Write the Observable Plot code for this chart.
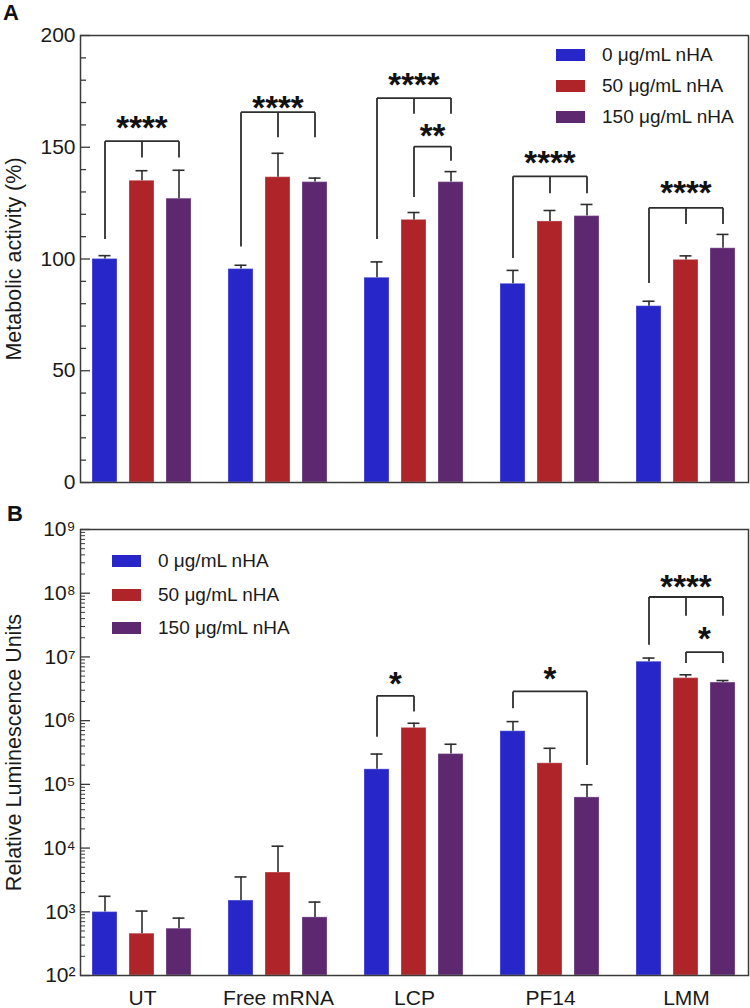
<!DOCTYPE html>
<html><head><meta charset="utf-8">
<script src="https://cdn.jsdelivr.net/npm/d3@7"></script>
<script src="https://cdn.jsdelivr.net/npm/@observablehq/plot@0.6"></script>
<style>
body{margin:0;background:#fff;font-family:"Liberation Sans",Arial,sans-serif;}
#wrap{position:relative;width:750px;height:1008px;overflow:hidden;}
.panel{position:absolute;left:0;}
.plabel{position:absolute;font-weight:bold;font-size:22px;color:#111;line-height:1;}
.legend{position:absolute;font-size:19px;color:#1a1a1a;}
.legend .row{position:absolute;left:0;white-space:nowrap;display:flex;align-items:center;height:20px;margin-top:-10px;}
.legend .sw{display:inline-block;width:29px;height:12px;margin-right:17px;}
</style></head><body><div id="wrap"></div>
<script>
// ---------- data ----------
const groups = ["UT", "Free mRNA", "LCP", "PF14", "LMM"];
const series = ["0 μg/mL nHA", "50 μg/mL nHA", "150 μg/mL nHA"];
const seriesColors = ["#2727c9", "#ae2429", "#5d2870"];

// Panel A: metabolic activity (%), mean and SD per group x series
const metabolicTitle = "Metabolic activity (%)";
const metabolicMean = [[100, 135, 127], [95.5, 136.6, 134.4], [91.6, 117.5, 134.4], [88.9, 116.8, 119.2], [78.9, 99.6, 104.8]];
const metabolicSD = [[1.5, 4.5, 12.7], [1.7, 10.7, 1.8], [7.1, 3.3, 4.7], [6.0, 4.9, 5.2], [2.2, 1.8, 6.2]];
const metabolicTicks = [0, 50, 100, 150, 200];
const metabolicMinorTicks = [10, 20, 30, 40, 60, 70, 80, 90, 110, 120, 130, 140, 160, 170, 180, 190];

// Panel B: relative luminescence units
const lumTitle = "Relative Luminescence Units";
const lumMean = [[990, 453, 543], [1500, 4130, 817], [172000, 769000, 299000], [682000, 214000, 62400], [8.4e6, 4.65e6, 3.96e6]];
const lumSD = [[760, 573, 253], [2020, 6570, 603], [127000, 141000, 127000], [284000, 154000, 36200], [1.2e6, 5.9e5, 3.0e5]];
const lumTicks = [1e2, 1e3, 1e4, 1e5, 1e6, 1e7, 1e8, 1e9];
const lumTickLabels = ["10²", "10³", "10⁴", "10⁵", "10⁶", "10⁷", "10⁸", "10⁹"];
const lumMinorTicks = d3.range(2, 9).flatMap(k => d3.range(2, 10).map(m => m * 10 ** k));

// Significance brackets: group index, leg series indices, leg bottoms, bracket top, label, label level
const metabolicBrackets = [
  {group: 0, legs: [0, 1, 2], bottoms: [109, 145.4, 145.4], top: 152.7, label: "****", at: 160.6},
  {group: 1, legs: [0, 1, 2], bottoms: [105.6, 154.5, 154.5], top: 165.7, label: "****", at: 169.7},
  {group: 2, legs: [0, 1, 2], bottoms: [109, 165, 165], top: 172, label: "****", at: 179.9},
  {group: 2, legs: [1, 2], bottoms: [127.7, 144], top: 150.3, label: "**", at: 157.2},
  {group: 3, legs: [0, 1, 2], bottoms: [100.5, 129.4, 129.4], top: 137, label: "****", at: 144.8},
  {group: 4, legs: [0, 1, 2], bottoms: [89.3, 115.7, 115.7], top: 122.9, label: "****", at: 131.4}
];
const lumBrackets = [
  {group: 2, legs: [0, 1], bottoms: [5.61e5, 1.39e6], top: 2.45e6, label: "*", at: 4.37e6},
  {group: 3, legs: [0, 2], bottoms: [1.57e6, 2.01e5], top: 2.87e6, label: "*", at: 5.24e6},
  {group: 4, legs: [0, 1, 2], bottoms: [1.55e7, 4.43e7, 4.43e7], top: 8.72e7, label: "****", at: 1.45e8},
  {group: 4, legs: [1, 2], bottoms: [8.0e6, 8.0e6], top: 1.19e7, label: "*", at: 2.23e7}
];

// ---------- helpers ----------
const FONT = "'Liberation Sans', Arial, sans-serif";
const INK = "#2e2e2e";

function table(means, sds) {
  return groups.flatMap((g, i) => series.map((s, j) => ({group: g, series: s, mean: means[i][j], sd: sds[i][j]})));
}
function segments(brackets) {
  const out = [];
  for (const b of brackets) {
    const g = groups[b.group];
    const a = series[b.legs[0]], z = series[b.legs[b.legs.length - 1]];
    out.push({group: g, s1: a, s2: z, y1: b.top, y2: b.top});
    b.legs.forEach((l, k) => out.push({group: g, s1: series[l], s2: series[l], y1: b.top, y2: b.bottoms[k]}));
  }
  return out;
}
function labels(brackets, span) {
  return brackets.filter(b => b.legs[b.legs.length - 1] - b.legs[0] === span).map(b => ({
    group: groups[b.group], s: series[span === 2 ? b.legs[0] + 1 : b.legs[0]], at: b.at, label: b.label
  }));
}
function panelMarks(data, brackets, base, title, yAxisMarks) {
  const star = {fx: "group", x: "s", y: "at", text: "label", fontSize: 33, fontWeight: "bold", fill: "#111", dy: 5};
  return [
    Plot.barY(data, {fx: "group", x: "series", y1: base, y2: "mean", fill: "series", stroke: "white", strokeOpacity: 0.25, strokeWidth: 1.2}),
    Plot.ruleX(data, {fx: "group", x: "series", y1: "mean", y2: d => d.mean + d.sd, stroke: INK, strokeWidth: 1.6}),
    Plot.tickY(data, {fx: "group", x: "series", y: d => d.mean + d.sd, stroke: INK, strokeWidth: 1.6, insetLeft: 6.5, insetRight: 6.5}),
    Plot.link(segments(brackets), {fx: "group", x1: "s1", x2: "s2", y1: "y1", y2: "y2", stroke: INK, strokeWidth: 1.8}),
    Plot.text(labels(brackets, 2), star),
    Plot.text(labels(brackets, 1), {...star, dx: 18.5}),
    ...yAxisMarks,
    Plot.text([title], {facet: "super", frameAnchor: "left", rotate: -90, dx: -66, textAnchor: "middle", lineAnchor: "middle", fontSize: 21.5, fill: "#1a1a1a"}),
    Plot.frame({facet: "super", stroke: "#3a3a3a", strokeWidth: 1.5})
  ];
}

const wrap = document.getElementById("wrap");

// ---------- Panel A ----------
const plotA = Plot.plot({
  width: 750, height: 497,
  marginTop: 35, marginBottom: 15, marginLeft: 79, marginRight: 2,
  style: {fontFamily: FONT, background: "transparent", color: "#1a1a1a"},
  fx: {domain: groups, paddingInner: 0.09, paddingOuter: 0, axis: null, label: null},
  x: {domain: series, paddingInner: 0.3243, paddingOuter: 0.3378, axis: null},
  y: {domain: [0, 200], axis: null},
  color: {domain: series, range: seriesColors},
  marks: panelMarks(table(metabolicMean, metabolicSD), metabolicBrackets, 0, metabolicTitle, [
    Plot.axisY(metabolicTicks, {tickSize: -10, tickPadding: 15, fontSize: 21, stroke: "#3a3a3a", strokeWidth: 1.3, label: null}),
    Plot.axisY(metabolicMinorTicks, {tickSize: -6, tickFormat: () => "", label: null, stroke: "#3a3a3a", strokeWidth: 1.3})
  ])
});
plotA.classList.add("panel");
plotA.style.top = "0px";
wrap.appendChild(plotA);

// ---------- Panel B ----------
const plotB = Plot.plot({
  width: 750, height: 511,
  marginTop: 32, marginBottom: 33, marginLeft: 79, marginRight: 2,
  style: {fontFamily: FONT, background: "transparent", color: "#1a1a1a"},
  fx: {domain: groups, paddingInner: 0.09, paddingOuter: 0, label: null},
  x: {domain: series, paddingInner: 0.3243, paddingOuter: 0.3378, axis: null},
  y: {type: "log", domain: [1e2, 1e9], axis: null},
  color: {domain: series, range: seriesColors},
  marks: [
    ...panelMarks(table(lumMean, lumSD), lumBrackets, lumTicks[0], lumTitle, [
      Plot.axisY(lumTicks, {tickSize: -10, tickPadding: 15, fontSize: 21, stroke: "#3a3a3a", strokeWidth: 1.3,
        tickFormat: d => lumTickLabels[lumTicks.indexOf(d)], label: null}),
      Plot.axisY(lumMinorTicks, {tickSize: -5, tickFormat: () => "", label: null, stroke: "#3a3a3a", strokeWidth: 1})
    ]),
    Plot.axisFx({anchor: "bottom", tickSize: 0, tickPadding: 15, fontSize: 21, label: null})
  ]
});
plotB.classList.add("panel");
plotB.style.top = "497px";
wrap.appendChild(plotB);

// ---------- panel letters & legends ----------
function addDiv(cls, text, left, top) {
  const d = document.createElement("div");
  d.className = cls; d.textContent = text;
  d.style.left = left + "px"; d.style.top = top + "px";
  wrap.appendChild(d); return d;
}
addDiv("plabel", "A", 3, 2);
addDiv("plabel", "B", 7, 503);

function legend(left, centers) {
  const lg = document.createElement("div");
  lg.className = "legend"; lg.style.left = left + "px"; lg.style.top = "0px";
  series.forEach((s, i) => {
    const row = document.createElement("div");
    row.className = "row"; row.style.top = centers[i] + "px";
    const sw = document.createElement("span");
    sw.className = "sw"; sw.style.background = seriesColors[i];
    row.appendChild(sw);
    row.appendChild(document.createTextNode(s));
    lg.appendChild(row);
  });
  wrap.appendChild(lg);
}
legend(556, [55, 86, 117]);
legend(112, [561, 595, 628]);
</script>
</body></html>
